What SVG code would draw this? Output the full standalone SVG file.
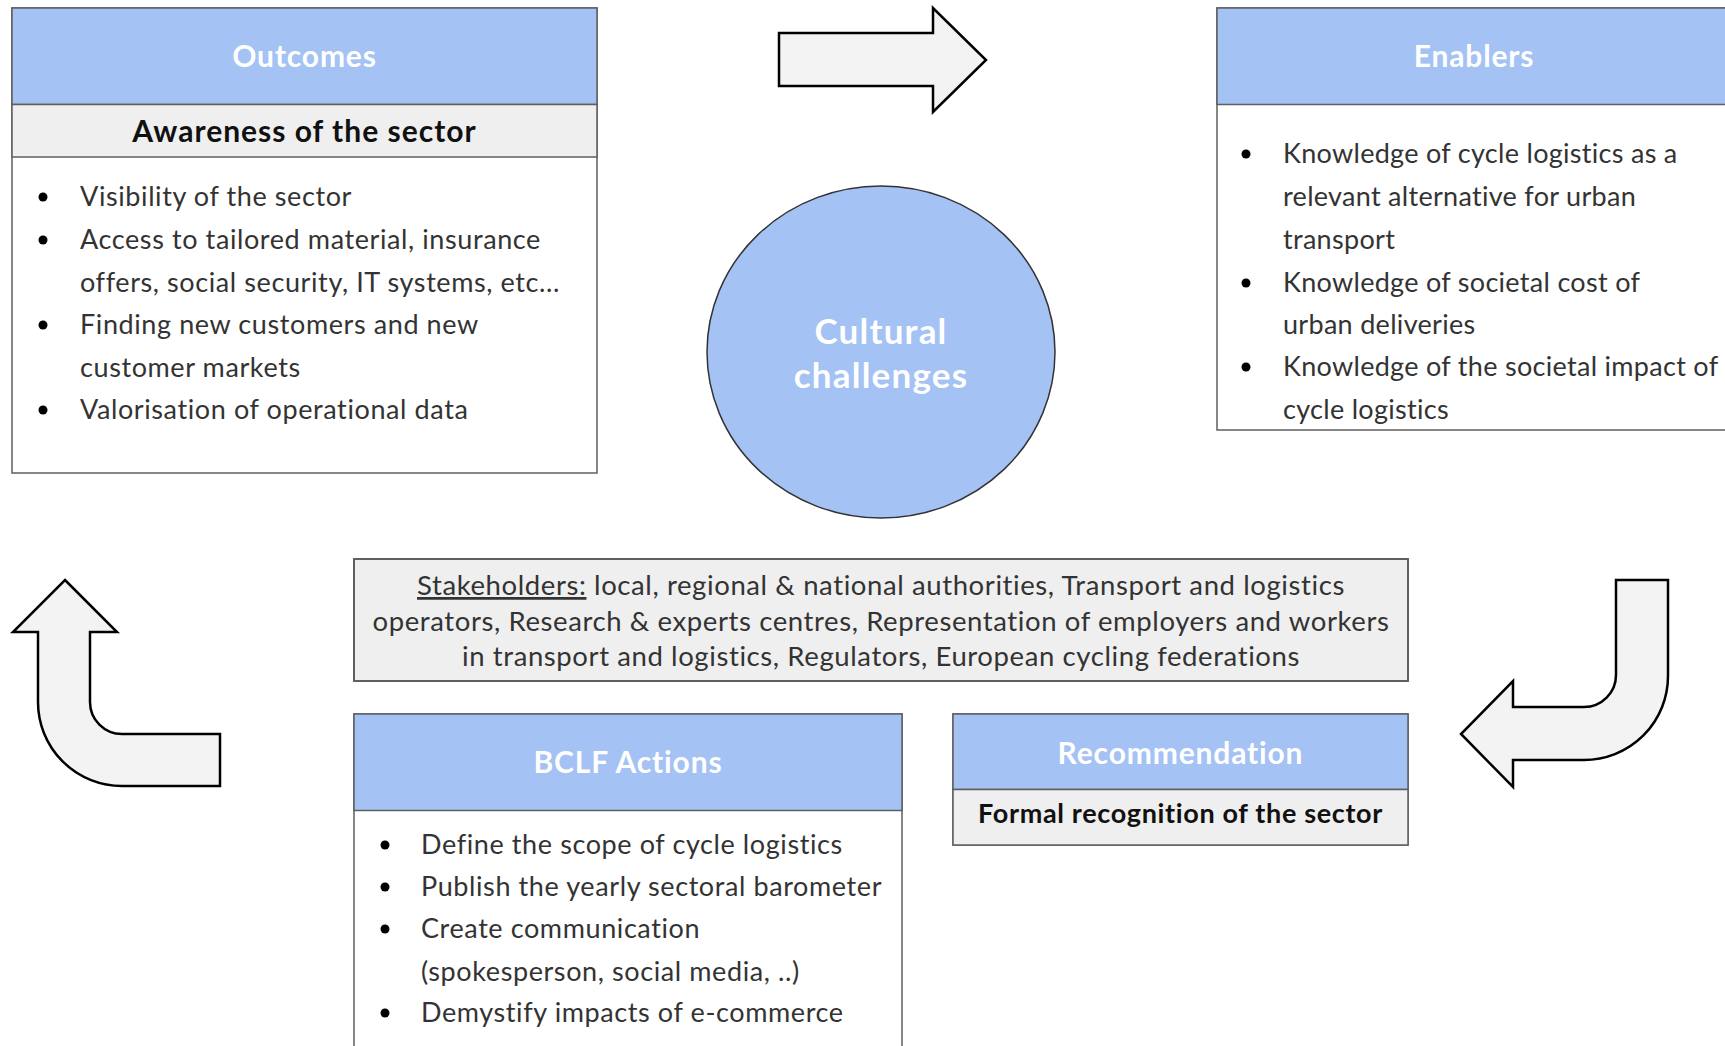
<svg xmlns="http://www.w3.org/2000/svg" width="1725" height="1046" viewBox="0 0 1725 1046">
<style>
.box{fill:#ffffff;stroke:#5f5f5f;stroke-width:1.5}
.hdr{fill:#a4c2f4;stroke:#5f5f5f;stroke-width:1.5}
.sub{fill:#efefef;stroke:#5f5f5f;stroke-width:1.5}
.title{font-family:Lato,"Liberation Sans",sans-serif;font-weight:bold;font-size:30px;letter-spacing:0.85px;fill:#ffffff;text-anchor:middle}
.circ{font-family:Lato,"Liberation Sans",sans-serif;font-weight:bold;font-size:35px;letter-spacing:1.2px;fill:#ffffff;text-anchor:middle}
.subt{font-family:Lato,"Liberation Sans",sans-serif;font-weight:bold;font-size:27px;letter-spacing:0.65px;fill:#111111;text-anchor:middle}
.subt-lg{font-size:30px;letter-spacing:1px}
.body{font-family:Lato,"Liberation Sans",sans-serif;font-size:27px;letter-spacing:0.6px;fill:#333333}
.body-n{letter-spacing:0.3px}
.stk{font-family:Lato,"Liberation Sans",sans-serif;font-size:27.5px;letter-spacing:0.6px;fill:#333333;text-anchor:middle}
.dot{fill:#000000}
.arrow{fill:#f3f3f3;stroke:#000000;stroke-width:2.5;stroke-linejoin:miter}
</style>

<g id="outcomes">
<rect class="box" x="12" y="8" width="585" height="465"/>
<rect class="hdr" x="12" y="8" width="585" height="96.5"/>
<rect class="sub" x="12" y="104.5" width="585" height="52.5"/>
<text class="title" x="304.5" y="67">Outcomes</text>
<text class="subt subt-lg" x="304.5" y="142">Awareness of the sector</text>
<circle class="dot" cx="43" cy="197" r="4.5"/>
<circle class="dot" cx="43" cy="240" r="4.5"/>
<circle class="dot" cx="43" cy="325" r="4.5"/>
<circle class="dot" cx="43" cy="410" r="4.5"/>
<text class="body" x="80" y="206">Visibility of the sector</text>
<text class="body" x="80" y="249">Access to tailored material, insurance</text>
<text class="body" x="80" y="292">offers, social security, IT systems, etc...</text>
<text class="body" x="80" y="334">Finding new customers and new</text>
<text class="body" x="80" y="377">customer markets</text>
<text class="body" x="80" y="419">Valorisation of operational data</text>
</g>

<g id="enablers">
<rect class="box" x="1217" y="8" width="520" height="422"/>
<rect class="hdr" x="1217" y="8" width="520" height="96.5"/>
<text class="title" x="1474" y="67">Enablers</text>
<circle class="dot" cx="1246" cy="154" r="4.5"/>
<circle class="dot" cx="1246" cy="283" r="4.5"/>
<circle class="dot" cx="1246" cy="367" r="4.5"/>
<text class="body body-n" x="1283" y="163">Knowledge of cycle logistics as a</text>
<text class="body body-n" x="1283" y="206">relevant alternative for urban</text>
<text class="body body-n" x="1283" y="249">transport</text>
<text class="body body-n" x="1283" y="292">Knowledge of societal cost of</text>
<text class="body body-n" x="1283" y="334">urban deliveries</text>
<text class="body body-n" x="1283" y="376">Knowledge of the societal impact of</text>
<text class="body body-n" x="1283" y="419">cycle logistics</text>
</g>

<g id="cultural-challenges">
<ellipse cx="881" cy="352" rx="174" ry="166" fill="#a4c2f4" stroke="#333333" stroke-width="1.5"/>
<text class="circ" x="881" y="344">Cultural</text>
<text class="circ" x="881" y="388">challenges</text>
</g>

<g id="stakeholders">
<rect class="sub" x="354" y="559" width="1054" height="122" style="stroke-width:2"/>
<text class="stk" x="881" y="595"><tspan style="text-decoration:underline">Stakeholders:</tspan> local, regional &amp; national authorities, Transport and logistics</text>
<text class="stk" x="881" y="631">operators, Research &amp; experts centres, Representation of employers and workers</text>
<text class="stk" x="881" y="666">in transport and logistics, Regulators, European cycling federations</text>
</g>

<g id="bclf-actions">
<rect class="box" x="354" y="714" width="548" height="345"/>
<rect class="hdr" x="354" y="714" width="548" height="96.5"/>
<text class="title" x="628" y="773">BCLF Actions</text>
<circle class="dot" cx="385" cy="845" r="4.5"/>
<circle class="dot" cx="385" cy="887" r="4.5"/>
<circle class="dot" cx="385" cy="929" r="4.5"/>
<circle class="dot" cx="385" cy="1013" r="4.5"/>
<text class="body" x="421" y="854">Define the scope of cycle logistics</text>
<text class="body" x="421" y="896">Publish the yearly sectoral barometer</text>
<text class="body" x="421" y="938">Create communication</text>
<text class="body" x="421" y="981">(spokesperson, social media, ..)</text>
<text class="body" x="421" y="1022">Demystify impacts of e-commerce</text>
</g>

<g id="recommendation">
<rect class="box" x="953" y="714" width="455" height="131"/>
<rect class="hdr" x="953" y="714" width="455" height="75.5"/>
<rect class="sub" x="953" y="789.5" width="455" height="55.5"/>
<text class="title" x="1180.5" y="764">Recommendation</text>
<text class="subt" x="1180.5" y="823">Formal recognition of the sector</text>
</g>

<g id="connectors">
<path class="arrow" d="M779 33 L933 33 L933 8 L986 60 L933 112 L933 86 L779 86 Z"/>
<path class="arrow" d="M1616 580 L1668 580 L1668 676 A84 84 0 0 1 1584 760 L1513 760 L1513 787 L1461 734 L1513 681 L1513 707 L1584 707 A32 32 0 0 0 1616 675 Z"/>
<path class="arrow" d="M65 580 L117 632 L90 632 L90 702 A32 32 0 0 0 122 734 L220 734 L220 786 L122 786 A84 84 0 0 1 38 702 L38 632 L13 632 Z"/>
</g>
</svg>
